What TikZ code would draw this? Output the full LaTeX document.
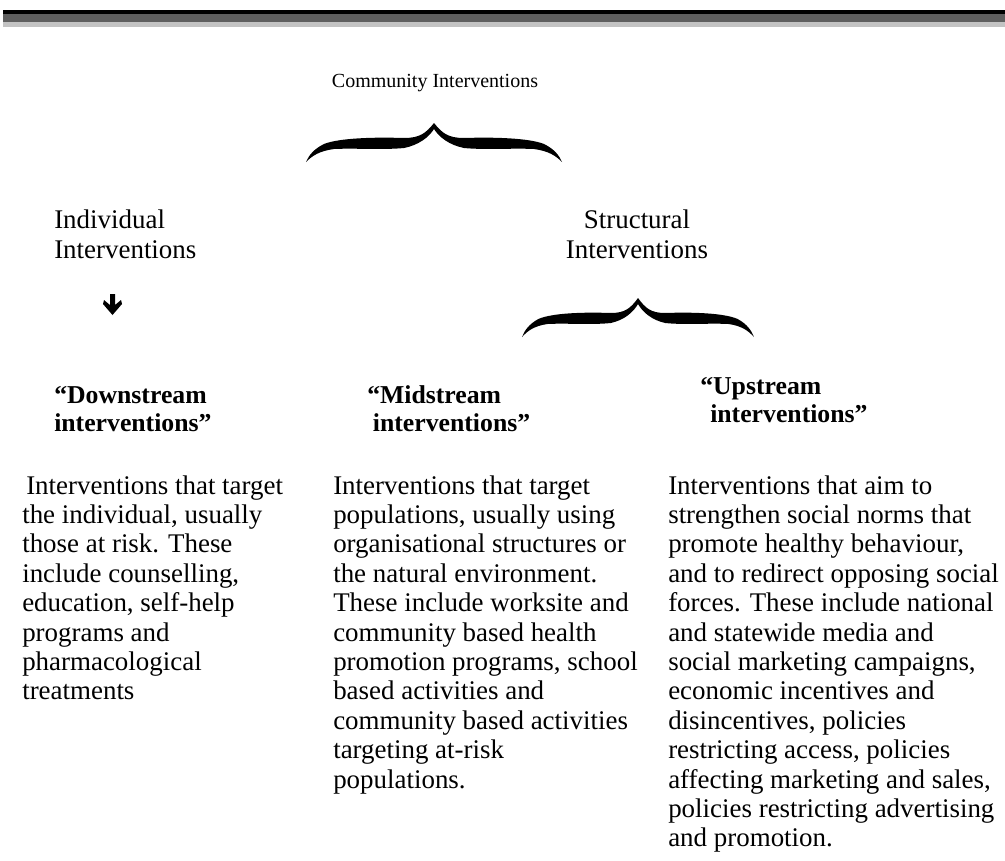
\documentclass[tikz,border=0pt]{standalone}
\usepackage{fontspec}
\setmainfont{Liberation Serif}
\definecolor{bardark}{HTML}{5F5F5F}
\definecolor{barlight}{HTML}{C3C3C3}
\tikzset{
  bodytext/.style={anchor=base west, align=left, inner sep=0pt, font=\fontsize{20.2}{22.05}\selectfont},
  headtext/.style={inner sep=0pt, font=\fontsize{20.2}{22.5}\selectfont},
  streamtext/.style={anchor=base west, align=left, inner sep=0pt, font=\fontsize{19.3}{21}\selectfont\bfseries},
  cbrace/.pic={
    \fill[black] (0,0) .. controls (8,10) and (14,15) .. (30,15)
      .. controls (60,14) and (95,15) .. (110,21)
      .. controls (120,26) and (125,32) .. (128,39)
      .. controls (122,33) and (115,28) .. (100,26)
      .. controls (80,25) and (50,27) .. (30,25)
      .. controls (15,22) and (5,14) .. (0,6)
      .. controls (-5,14) and (-15,22) .. (-30,25)
      .. controls (-50,27) and (-80,25) .. (-100,26)
      .. controls (-115,28) and (-122,33) .. (-128,39)
      .. controls (-125,32) and (-120,26) .. (-110,21)
      .. controls (-95,15) and (-60,14) .. (-30,15)
      .. controls (-14,15) and (-8,10) .. (0,0) -- cycle;
  }
}
\begin{document}
\begin{tikzpicture}[x=0.75pt,y=-0.75pt]
\useasboundingbox (0,0) rectangle (1005,860);
\fill[white] (0,0) rectangle (1005,860);
% top bars
\fill[black] (3,10) rectangle (1005,14);
\fill[bardark] (3,14) rectangle (1005,22);
\fill[barlight] (3,22) rectangle (1005,27);

\node[inner sep=0pt, anchor=base, font=\fontsize{15}{17}\selectfont] (comm) at (435,87) {Community Interventions};
\pic at (434,123) {cbrace};

% anchors below are the baselines of the last lines
\node[headtext, anchor=base west, align=left] (indiv) at (54,258) {Individual\\Interventions};
\node[headtext, anchor=base, align=center] (struct) at (637,258) {Structural\\Interventions};

% down arrow
\fill[black] (110,294) -- (115,294) -- (115,305) -- (121,300) -- (122,304) -- (112.5,315)
  -- (103,304) -- (104,300) -- (110,305) -- cycle;

\pic[xscale=0.906] at (638,298) {cbrace};

\node[streamtext] (down) at (54,431) {“Downstream\\interventions”};
\node[streamtext] (mid) at (367,431) {“Midstream\\\hspace*{4.25pt}interventions”};
\node[streamtext] (up) at (700,422) {“Upstream\\\hspace*{7.5pt}interventions”};

\node[bodytext] (b1) at (22,699.8) {\hspace*{3pt}Interventions that target\\the individual, usually\\those at risk. These\\include counselling,\\education, self-help\\programs and\\pharmacological\\treatments};
\node[bodytext] (b2) at (333,788) {Interventions that target\\populations, usually using\\organisational structures or\\the natural environment.\\These include worksite and\\community based health\\promotion programs, school\\based activities and\\community based activities\\targeting at-risk\\populations.};
\node[bodytext] (b3) at (668,846.8) {Interventions that aim to\\strengthen social norms that\\promote healthy behaviour,\\and to redirect opposing social\\forces. These include national\\and statewide media and\\social marketing campaigns,\\economic incentives and\\disincentives, policies\\restricting access, policies\\affecting marketing and sales,\\policies restricting advertising\\and promotion.};
\end{tikzpicture}
\end{document}
